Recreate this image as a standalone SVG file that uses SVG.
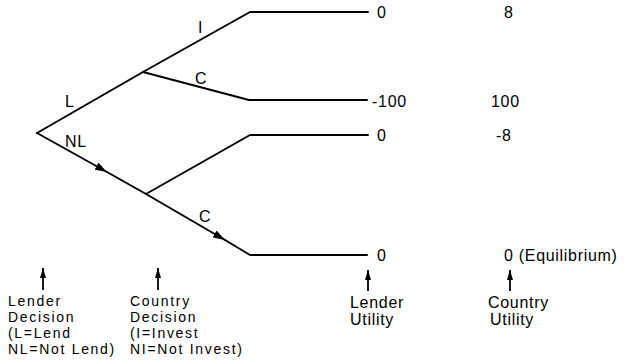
<svg xmlns="http://www.w3.org/2000/svg" width="632" height="364" viewBox="0 0 632 364">
<style>
  text { font-family: "Liberation Sans", Arial, sans-serif; font-size: 16px; letter-spacing: 0.7px; fill: #000; }
  text.s { font-size: 14px; letter-spacing: 1.7px; }
  .ln { stroke: #000; stroke-width: 2; fill: none; stroke-linecap: round; stroke-linejoin: round; }
  .up { stroke: #000; stroke-width: 1.8; fill: none; }
</style>
<defs>
  <marker id="ah" viewBox="0 0 12 8" refX="12" refY="4" markerWidth="12" markerHeight="8" markerUnits="userSpaceOnUse" orient="auto">
    <path d="M0,0 L12,4 L0,8 Z" fill="#000"/>
  </marker>
  <marker id="uh" viewBox="0 0 6 10" refX="3" refY="0" markerWidth="6" markerHeight="10" markerUnits="userSpaceOnUse" orient="0">
    <path d="M0,10 L3,0 L6,10 Z" fill="#000"/>
  </marker>
</defs>
<g id="connectors">
  <path class="ln" d="M37,133 L143,72 L250,12 L368,12"/>
  <path class="ln" d="M143,72 L249,100 L367,100"/>
  <path class="ln" d="M37,133 L107,172" marker-end="url(#ah)"/>
  <path class="ln" d="M107,172 L146,194"/>
  <path class="ln" d="M146,194 L250,135 L368,135" stroke-width="2.4"/>
  <path class="ln" d="M146,194 L225,240" marker-end="url(#ah)"/>
  <path class="ln" d="M225,240 L250,255 L367,255"/>
  <line class="up" x1="43" y1="290" x2="43" y2="268" marker-end="url(#uh)"/>
  <line class="up" x1="158" y1="290" x2="158" y2="268" marker-end="url(#uh)"/>
  <line class="up" x1="368" y1="291" x2="368" y2="270" marker-end="url(#uh)"/>
  <line class="up" x1="510" y1="291" x2="510" y2="270" marker-end="url(#uh)"/>
</g>
<g id="branch-labels">
  <text x="198" y="33" font-family="Liberation Serif, serif">I</text>
  <text x="195" y="84">C</text>
  <text x="65" y="107">L</text>
  <text x="65" y="147">NL</text>
  <text x="199" y="222">C</text>
</g>
<g id="payoffs">
  <text x="377" y="18">0</text>
  <text x="504" y="18">8</text>
  <text x="372" y="107">-100</text>
  <text x="491" y="107">100</text>
  <text x="377" y="141">0</text>
  <text x="496" y="141">-8</text>
  <text x="377" y="261">0</text>
  <text x="504" y="261">0 (Equilibrium)</text>
</g>
<g id="lender-decision">
  <text class="s" x="8" y="306">Lender</text>
  <text class="s" x="8" y="322">Decision</text>
  <text class="s" x="8" y="338">(L=Lend</text>
  <text class="s" x="8" y="354">NL=Not Lend)</text>
</g>
<g id="country-decision">
  <text class="s" x="130" y="306">Country</text>
  <text class="s" x="130" y="322">Decision</text>
  <text class="s" x="130" y="338">(I=Invest</text>
  <text class="s" x="130" y="354">NI=Not Invest)</text>
</g>
<g id="lender-utility">
  <text x="350" y="308">Lender</text>
  <text x="350" y="325">Utility</text>
</g>
<g id="country-utility">
  <text x="488" y="308">Country</text>
  <text x="490" y="325">Utility</text>
</g>
</svg>
